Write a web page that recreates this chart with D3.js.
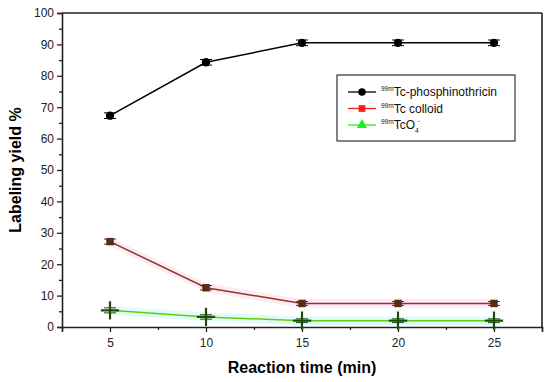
<!DOCTYPE html>
<html>
<head>
<meta charset="utf-8">
<script src="https://cdn.jsdelivr.net/npm/d3@7"></script>
<style>
  body { margin: 0; background: #fff; }
  text { font-family: Arial, "Liberation Sans", sans-serif; }
</style>
</head>
<body>
<div id="chart"></div>
<script>
// data
const times = [5, 10, 15, 20, 25];
const phos = [67.3, 84.3, 90.5, 90.5, 90.5];
const phosErr = [0.9, 0.9, 0.9, 0.9, 0.9];
const colloid = [27.2, 12.5, 7.5, 7.5, 7.5];
const colloidErr = [0.8, 0.7, 0.6, 0.6, 0.6];
const tco4 = [5.3, 3.2, 2.0, 2.0, 2.0];
const tco4Err = [0.8, 0.7, 0.6, 0.6, 0.6];
const yTicks = [0, 10, 20, 30, 40, 50, 60, 70, 80, 90, 100];

const width = 550, height = 382;
const margin = {top: 13, right: 8, bottom: 55, left: 62};

const svg = d3.select("#chart").append("svg")
  .attr("width", width)
  .attr("height", height);

const x = d3.scaleLinear().domain([2.5, 27.5]).range([margin.left, width - margin.right]);
const y = d3.scaleLinear().domain([0, 100]).range([height - margin.bottom, margin.top]);

// shaded bands behind the lower two lines
const band = d3.area()
  .x(d => x(d[0]))
  .y0(d => y(d[1] - 1.4))
  .y1(d => y(d[1] + 1.4));
svg.append("path")
  .datum(times.map((t, i) => [t, colloid[i]]))
  .attr("d", band)
  .attr("fill", "#ffe0f4").attr("opacity", 0.7);
svg.append("path")
  .datum(times.map((t, i) => [t, tco4[i]]))
  .attr("d", band)
  .attr("fill", "#d8fbf6").attr("opacity", 0.8);

// axes
svg.append("g")
  .attr("transform", `translate(0,${y(0)})`)
  .call(d3.axisBottom(x).tickValues(times).tickSize(5).tickPadding(6));
svg.append("g")
  .attr("transform", `translate(0,${y(0)})`)
  .call(d3.axisBottom(x).tickValues([2.5, 7.5, 12.5, 17.5, 22.5, 27.5]).tickSize(3).tickFormat(""))
  .select(".domain").remove();

svg.append("g")
  .attr("transform", `translate(${x(2.5)},0)`)
  .call(d3.axisLeft(y).tickValues(yTicks).tickSize(5).tickPadding(3));
svg.append("g")
  .attr("transform", `translate(${x(2.5)},0)`)
  .call(d3.axisLeft(y).tickValues(d3.range(5, 100, 10)).tickSize(3).tickFormat(""))
  .select(".domain").remove();

svg.selectAll(".domain").attr("stroke-width", 1.6).attr("stroke", "#222");
svg.selectAll(".tick line").attr("stroke-width", 1.3).attr("stroke", "#222");
svg.selectAll(".tick text").attr("font-size", 12).attr("fill", "#222");

// top + right frame
svg.append("line")
  .attr("x1", x(2.5)).attr("x2", x(27.5)).attr("y1", y(100)).attr("y2", y(100))
  .attr("stroke", "#222").attr("stroke-width", 1.6);
svg.append("line")
  .attr("x1", x(27.5)).attr("x2", x(27.5)).attr("y1", y(100)).attr("y2", y(0))
  .attr("stroke", "#222").attr("stroke-width", 1.6);

// axis titles
svg.append("text")
  .attr("x", (x(2.5) + x(27.5)) / 2).attr("y", height - 9)
  .attr("text-anchor", "middle")
  .attr("font-size", 16).attr("font-weight", "bold")
  .text("Reaction time (min)");
svg.append("text")
  .attr("transform", `translate(21,${(y(0) + y(100)) / 2}) rotate(-90)`)
  .attr("text-anchor", "middle")
  .attr("font-size", 16).attr("font-weight", "bold")
  .text("Labeling yield %");

const line = d3.line().x(d => x(d[0])).y(d => y(d[1]));

const series = [
  {vals: phos, err: phosErr, line: "#000", mark: "#000", shape: d3.symbolCircle},
  {vals: colloid, err: colloidErr, line: "#8b3a1e", mark: "#5a2a14", shape: d3.symbolSquare},
  {vals: tco4, err: tco4Err, line: "#66cc11", mark: "#1f4a08", shape: d3.symbolPlus}
];

series.forEach(s => {
  const pts = times.map((t, i) => [t, s.vals[i], s.err[i]]);
  svg.append("path")
    .datum(pts)
    .attr("d", line)
    .attr("fill", "none")
    .attr("stroke", s.line)
    .attr("stroke-width", 1.5);
  const g = svg.append("g");
  // error bars
  pts.forEach(p => {
    const cx = x(p[0]);
    g.append("line").attr("x1", cx).attr("x2", cx)
      .attr("y1", y(p[1] - p[2])).attr("y2", y(p[1] + p[2]))
      .attr("stroke", s.mark).attr("stroke-width", 1);
    [p[1] - p[2], p[1] + p[2]].forEach(v => {
      g.append("line").attr("x1", cx - 6).attr("x2", cx + 6)
        .attr("y1", y(v)).attr("y2", y(v))
        .attr("stroke", s.mark).attr("stroke-width", 1);
    });
  });
  const isPlus = s.shape === d3.symbolPlus;
  g.selectAll("path.pt")
    .data(pts)
    .join("path")
    .attr("transform", d => `translate(${x(d[0])},${y(d[1])})`)
    .attr("d", d3.symbol().type(s.shape).size(isPlus ? 110 : 55))
    .attr("fill", isPlus ? "none" : s.mark)
    .attr("stroke", isPlus ? s.mark : "none")
    .attr("stroke-width", 2.2);
});

// legend
const lg = svg.append("g").attr("transform", "translate(337,75)");
lg.append("rect")
  .attr("width", 178).attr("height", 66)
  .attr("fill", "#fff").attr("stroke", "#333").attr("stroke-width", 1.2);
const legendItems = [
  {label: "Tc-phosphinothricin", col: "#000", shape: d3.symbolCircle, sub: ""},
  {label: "Tc colloid", col: "#ff1a1a", shape: d3.symbolSquare, sub: ""},
  {label: "TcO", col: "#22ee22", shape: d3.symbolTriangle, sub: "4"}
];
legendItems.forEach((d, i) => {
  const yy = 17 + i * 16.5;
  lg.append("line").attr("x1", 11).attr("x2", 39).attr("y1", yy).attr("y2", yy)
    .attr("stroke", d.col).attr("stroke-width", 1.3);
  lg.append("path")
    .attr("transform", `translate(25,${yy})`)
    .attr("d", d3.symbol().type(d.shape).size(45))
    .attr("fill", d.col);
  const t = lg.append("text").attr("x", 44).attr("y", yy + 4).attr("font-size", 12).attr("fill", "#111");
  t.append("tspan").attr("font-size", 6.5).attr("dy", -5).text("99m");
  t.append("tspan").attr("dy", 5).text(d.label);
  if (d.sub) {
    t.append("tspan").attr("font-size", 6.5).attr("dy", 4).text(d.sub);
    t.append("tspan").attr("font-size", 6.5).attr("dy", -10).attr("dx", -1).text("-");
  }
});
</script>
</body>
</html>
